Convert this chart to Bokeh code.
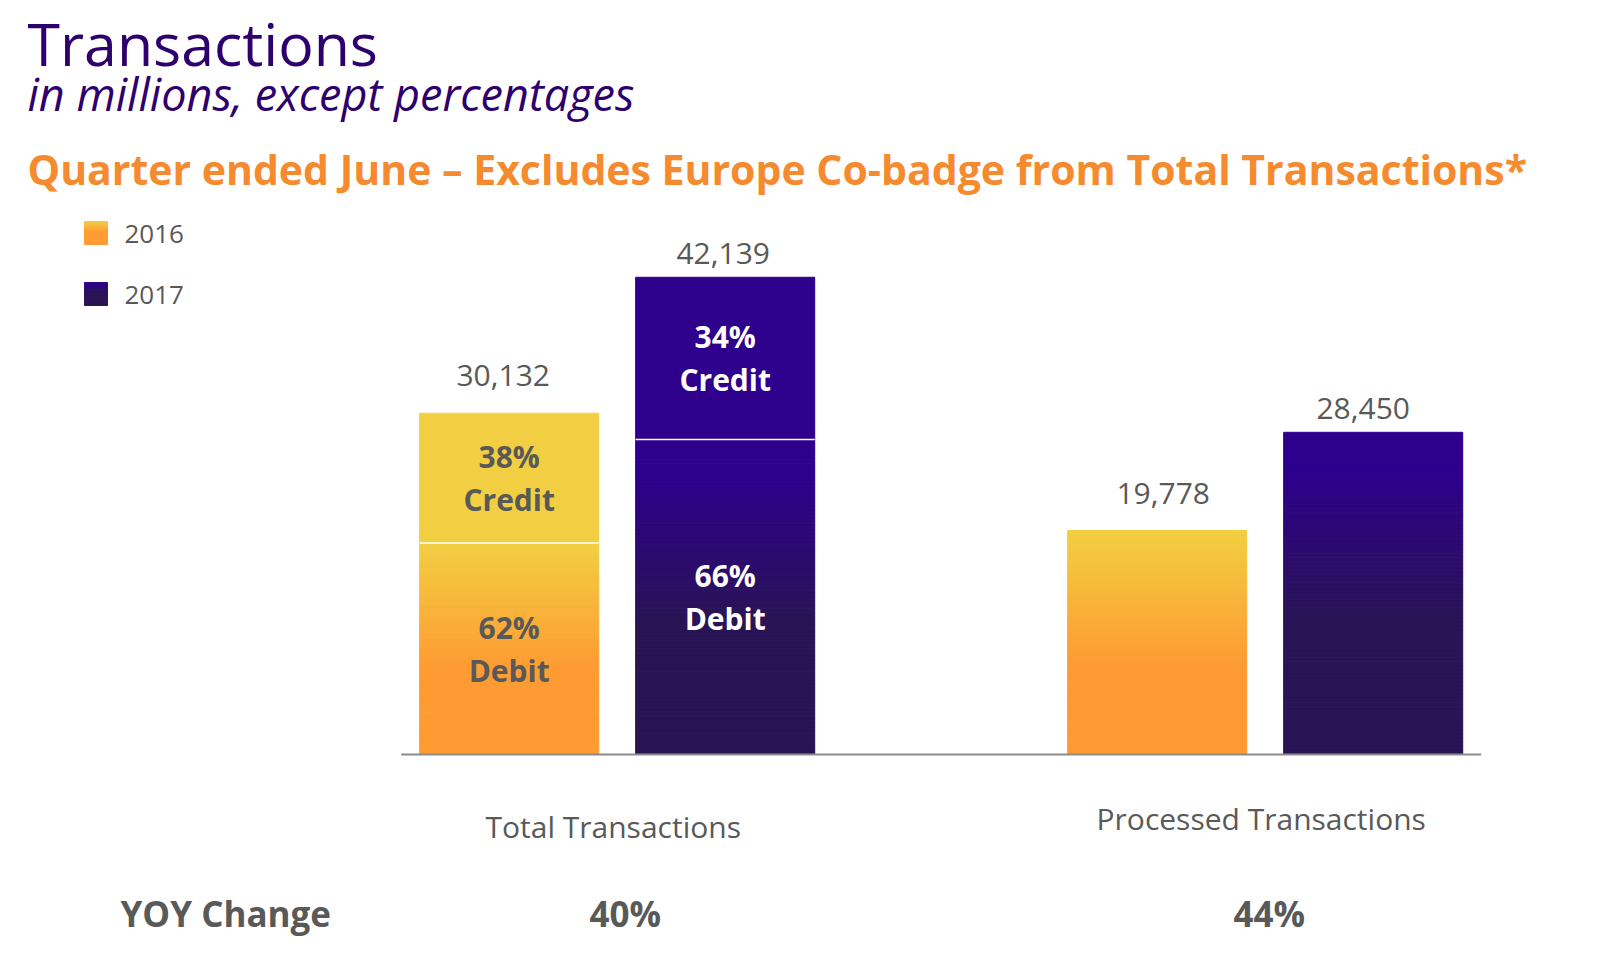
from bokeh.plotting import figure
from bokeh.models import Range1d, Label, ColumnDataSource
from bokeh.embed import file_html
from bokeh.resources import INLINE

# ---------------- data ----------------
categories = ["Total Transactions", "Processed Transactions"]
years = ["2016", "2017"]
values_2016 = [30132, 19778]
values_2017 = [42139, 28450]
credit_share_total = [38, 34]          # % credit within Total Transactions, 2016 / 2017
yoy_change = ["40%", "44%"]
title = "Transactions"
subtitle = "in millions, except percentages"
heading = "Quarter ended June \u2013 Excludes Europe Co-badge from Total Transactions*"

# ---------------- layout constants ----------------
W, H = 1605, 963
PAGE = 0
X0_PX = 400.7        # page x of category axis start
UNIT_PX = 216.0      # px per bar slot
Y0_PX = 754.0        # page y of value 0
VAL_PER_PX = 88.3    # data units per px
BAR_W = 0.829
GROUP_GAP = 1.0
VALUE_LABEL_DX_PX = [-6, -2, 6, -10]   # small horizontal nudges of value labels

FONT = "Open Sans"
GRAY = "#595959"
YELLOW = (242, 207, 66)
ORANGE = (254, 155, 51)
PURPLE = (46, 0, 140)
DARK = (41, 20, 86)


def dx(px):
    return (px - X0_PX) / UNIT_PX


def dy(py):
    return (Y0_PX - py) * VAL_PER_PX


def hexc(c):
    return "#%02x%02x%02x" % tuple(int(round(v)) for v in c)


def lerp(a, b, t):
    t = max(0.0, min(1.0, t))
    return tuple(a[i] + (b[i] - a[i]) * t for i in range(3))


def orange_grad(t):
    return hexc(lerp(YELLOW, ORANGE, t / 0.6))


def purple_grad(t):
    return hexc(lerp(PURPLE, DARK, (t - 0.12) / 0.45))


p = figure(width=W, height=H,
           x_range=Range1d(dx(PAGE), dx(PAGE + W)),
           y_range=Range1d(dy(PAGE + H), dy(PAGE)),
           output_backend="svg", toolbar_location=None,
           x_axis_type=None, y_axis_type=None,
           min_border=0, outline_line_color=None,
           background_fill_color="white", border_fill_color="white")


def label(x, y, text, size, color=GRAY, style="normal", align="center"):
    p.add_layout(Label(x=x, y=y, text=text, text_font=FONT, text_font_size=size,
                       text_font_style=style, text_color=color, text_align=align,
                       text_baseline="middle"))


# bar positions from category/year indices
bars = []
for gi, cat in enumerate(categories):
    center = gi * (2 + GROUP_GAP) + 1.0
    for yi, yr in enumerate(years):
        val = (values_2016 if yi == 0 else values_2017)[gi]
        bars.append(dict(cat=cat, year=yr, gi=gi, yi=yi, x=center + (yi - 0.5), value=val))

# gradient strips
N = 80
sx, sb, st, sc = [], [], [], []
solid = dict(x=[], bottom=[], top=[], color=[])
splits = dict(x0=[], x1=[], y=[])
for b in bars:
    grad = orange_grad if b["yi"] == 0 else purple_grad
    if b["gi"] == 0:
        share = credit_share_total[b["yi"]] / 100.0
        split = b["value"] * (1 - share)
        solid["x"].append(b["x"]); solid["bottom"].append(split)
        solid["top"].append(b["value"])
        solid["color"].append(hexc(YELLOW) if b["yi"] == 0 else hexc(PURPLE))
        splits["x0"].append(b["x"] - BAR_W / 2); splits["x1"].append(b["x"] + BAR_W / 2)
        splits["y"].append(split)
        seg_top = split
    else:
        seg_top = b["value"]
    for k in range(N):
        top = seg_top * (1 - k / N)
        bot = seg_top * (1 - (k + 1) / N)
        sx.append(b["x"]); st.append(top); sb.append(bot)
        sc.append(grad((k + 0.5) / N))

strip_src = ColumnDataSource(dict(x=sx, bottom=sb, top=st, color=sc))
p.vbar(x="x", bottom="bottom", top="top", width=BAR_W, source=strip_src,
       fill_color="color", line_color="color", line_width=1)
p.vbar(x="x", bottom="bottom", top="top", width=BAR_W, source=ColumnDataSource(solid),
       fill_color="color", line_color="color", line_width=1)
p.segment(x0="x0", x1="x1", y0="y", y1="y", source=ColumnDataSource(splits),
          line_color="white", line_width=1.5)

# baseline
p.segment(x0=[bars[0]["x"] - 0.5], x1=[bars[-1]["x"] + 0.5], y0=[0], y1=[0],
          line_color="#8C8C8C", line_width=2)

# value labels (middle of text placed above bar top)
for i, b in enumerate(bars):
    gap = 37.5 if b["yi"] == 0 else 23.5
    label(b["x"] + VALUE_LABEL_DX_PX[i] / UNIT_PX, b["value"] + gap * VAL_PER_PX,
          "{:,}".format(b["value"]), "30px")

# in-bar share labels (Total Transactions)
for b in bars:
    if b["gi"] != 0:
        continue
    share = credit_share_total[b["yi"]]
    split = b["value"] * (1 - share / 100.0)
    col = GRAY if b["yi"] == 0 else "white"
    for (lo, hi, pct, name) in [(split, b["value"], share, "Credit"), (0, split, 100 - share, "Debit")]:
        mid = (lo + hi) / 2
        label(b["x"], mid + 21.5 * VAL_PER_PX, "%d%%" % pct, "30px", col, "bold")
        label(b["x"], mid - 21.5 * VAL_PER_PX, name, "30px", col, "bold")

# category labels and YOY change
cat_mid = [826, 818]
for gi, cat in enumerate(categories):
    center = gi * (2 + GROUP_GAP) + 1.0
    label(center - 4 / UNIT_PX, dy(cat_mid[gi]), cat, "30px")
    label(center + (8 if gi == 0 else 4) / UNIT_PX, dy(913), yoy_change[gi], "35px", GRAY, "bold")
label(dx(120), dy(913), "YOY Change", "35px", GRAY, "bold", "left")

# titles
label(dx(27), dy(42), title, "59px", "#2D006E", "normal", "left")
label(dx(27), dy(93), subtitle, "45px", "#2D006E", "italic", "left")
label(dx(27), dy(168), heading, "41px", "#F68A2E", "bold", "left")

# legend (gradient squares)
leg_top = [221, 282]
lx, lb, lt, lc = [], [], [], []
NL = 12
for yi, yr in enumerate(years):
    grad = orange_grad if yi == 0 else purple_grad
    t0 = leg_top[yi]
    for k in range(NL):
        lt.append(dy(t0 + 23 * k / NL)); lb.append(dy(t0 + 23 * (k + 1) / NL))
        lx.append(dx(95.5)); lc.append(grad((k + 0.5) / NL * 1.3))
    label(dx(124), dy(t0 + 12.5), yr, "26px", GRAY, "normal", "left")
p.vbar(x="x", bottom="bottom", top="top", width=23 / UNIT_PX,
       source=ColumnDataSource(dict(x=lx, bottom=lb, top=lt, color=lc)),
       fill_color="color", line_color="color", line_width=1)

open("out.html", "w").write(file_html(p, INLINE))
